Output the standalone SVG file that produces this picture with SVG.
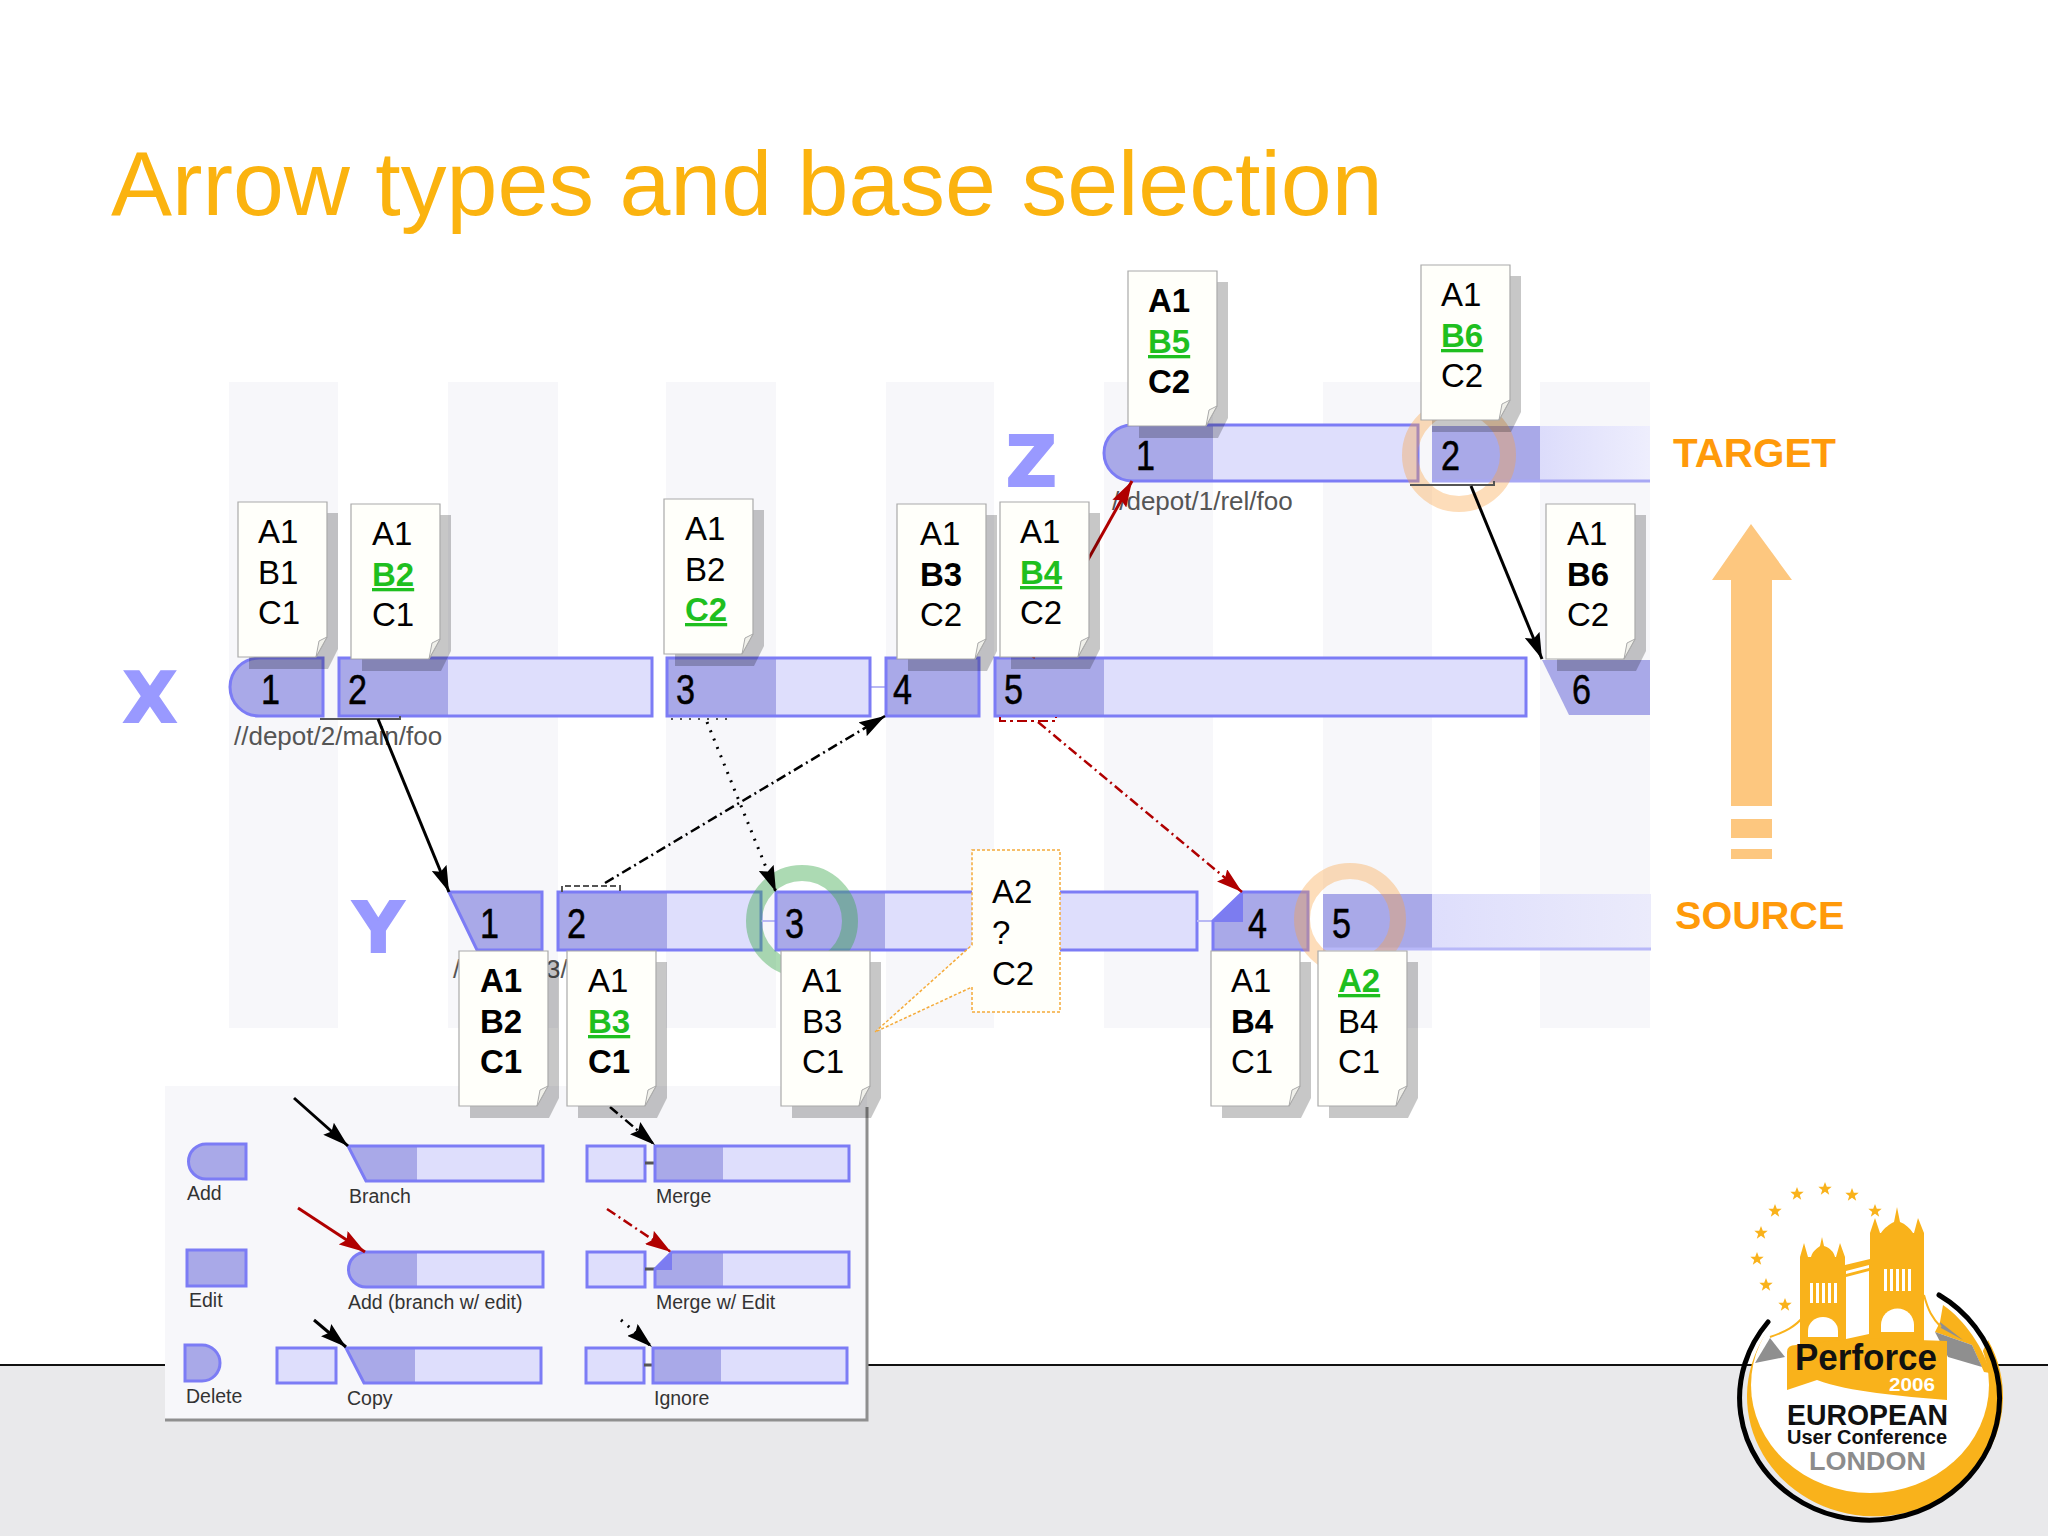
<svg xmlns="http://www.w3.org/2000/svg" width="2048" height="1536" viewBox="0 0 2048 1536">
<style>
text{font-family:"Liberation Sans",Arial,sans-serif}
.col{fill:#f7f7fa}
.l{fill:#dedefc}
.d{fill:#a9a9e8}
.o{fill:none;stroke:#7c7cf5;stroke-width:3}
.hi{fill:#7c7cf0}
.t{font-size:33px;fill:#000}
.b{font-weight:bold}
.g{font-weight:bold;fill:#1fbf1f;text-decoration:underline}
.n{font-size:42px;fill:#000;stroke:#000;stroke-width:.5}
.big{font-family:"DejaVu Sans",sans-serif;font-weight:bold;font-size:70px;fill:#9999ff;stroke:#9999ff;stroke-width:2}
.sub{font-size:26px;fill:#555}
.lg{font-size:19.500px;fill:#333}
.side{font-size:40px;font-weight:bold;fill:#ff9a0a}
.ring{fill:none;stroke-width:16}
.a{fill:none;stroke:#000;stroke-width:3}
.r{stroke:#b00000}
.dash{stroke-dasharray:10 4 2 4;stroke-width:2.500}
.dot{stroke-dasharray:2 7}
.br{fill:none;stroke:#555;stroke-width:2}
.lk{stroke:#555;stroke-width:3}
.gold{fill:#f9b21b}
.grey{fill:#8f8f8f}
</style>
<defs>
<marker id="ah" markerUnits="userSpaceOnUse" viewBox="0 0 26 16" refX="26" refY="8" markerWidth="26" markerHeight="16" orient="auto"><path d="M0,0 L26,8 L0,16 L4,8Z" fill="#000"/></marker>
<marker id="ahr" markerUnits="userSpaceOnUse" viewBox="0 0 26 16" refX="26" refY="8" markerWidth="26" markerHeight="16" orient="auto"><path d="M0,0 L26,8 L0,16 L4,8Z" fill="#b00000"/></marker>
<linearGradient id="fz" x1="0" x2="1" y1="0" y2="0"><stop offset="0" stop-color="#dcdcfb"/><stop offset="1" stop-color="#eeeefd"/></linearGradient>
<linearGradient id="fy" x1="0" x2="1" y1="0" y2="0"><stop offset="0" stop-color="#dedefc"/><stop offset="1" stop-color="#ebebfb"/></linearGradient>
<g id="page">
<path d="M11,11 H100 V147 L90,167 H11Z" fill="#000" opacity=".22"/>
<path d="M0,0 H89 V135 L78,155 H0Z" fill="#fffffa" stroke="#aaa" stroke-width="1.200"/>
<path d="M89,135 L78,155 L81,139Z" fill="#f0f0ea" stroke="#aaa" stroke-width="1"/>
</g>
<path id="star" d="M0,-7 L1.800,-2.200 L6.700,-2.200 L2.800,.9 L4.200,5.700 L0,2.800 L-4.200,5.700 L-2.800,.9 L-6.700,-2.200 L-1.800,-2.200Z" fill="#f9b21b"/>
</defs>
<rect width="2048" height="1536" fill="#fff"/>
<rect y="1364" width="2048" height="172" fill="#e9e9eb"/>
<line x1="0" y1="1365" x2="2048" y2="1365" stroke="#111" stroke-width="2"/>
<text x="111" y="215" font-size="91.500" fill="#fbb30f">Arrow types and base selection</text>
<g id="columns">
<rect class="col" x="229" y="382" width="109" height="646"/>
<rect class="col" x="448" y="382" width="110" height="646"/>
<rect class="col" x="666" y="382" width="110" height="646"/>
<rect class="col" x="886" y="382" width="108" height="646"/>
<rect class="col" x="1104" y="382" width="109" height="646"/>
<rect class="col" x="1323" y="382" width="109" height="646"/>
<rect class="col" x="1540" y="382" width="110" height="646"/>
</g>
<g id="legend">
<rect x="165" y="1086" width="702" height="334" fill="#f7f7fa"/>
<path d="M867,1107 V1420 H165" fill="none" stroke="#8f8f8f" stroke-width="3"/>
<g id="lg-add"><path class="d" d="M246,1144 H206 A17.500 17.500 0 0 0 206,1179 H246Z"/><path class="o" d="M246,1144 H206 A17.500 17.500 0 0 0 206,1179 H246Z"/><text class="lg" x="187" y="1200">Add</text></g>
<g id="lg-edit"><rect class="d" x="187" y="1250" width="59" height="36"/><rect class="o" x="187" y="1250" width="59" height="36"/><text class="lg" x="189" y="1307">Edit</text></g>
<g id="lg-delete"><path class="d" d="M185,1345 H202 A18 18 0 0 1 202,1381 H185Z"/><path class="o" d="M185,1345 H202 A18 18 0 0 1 202,1381 H185Z"/><text class="lg" x="186" y="1403">Delete</text></g>
<g id="lg-branch"><path class="l" d="M348,1146 H543 V1181 H366Z"/><path class="d" d="M348,1146 H417 V1181 H366Z"/><path class="o" d="M348,1146 H543 V1181 H366Z"/><text class="lg" x="349" y="1203">Branch</text></g>
<g id="lg-merge"><rect class="l" x="587" y="1146" width="58" height="35"/><rect class="o" x="587" y="1146" width="58" height="35"/><line class="lk" x1="645" y1="1163" x2="655" y2="1163"/><rect class="l" x="655" y="1146" width="194" height="35"/><rect class="d" x="655" y="1146" width="68" height="35"/><rect class="o" x="655" y="1146" width="194" height="35"/><text class="lg" x="656" y="1203">Merge</text></g>
<g id="lg-addbranch"><path class="l" d="M543,1252 H366 A17.500 17.500 0 0 0 366,1287 H543Z"/><path class="d" d="M417,1252 H366 A17.500 17.500 0 0 0 366,1287 H417Z"/><path class="o" d="M543,1252 H366 A17.500 17.500 0 0 0 366,1287 H543Z"/><text class="lg" x="348" y="1309">Add (branch w/ edit)</text></g>
<g id="lg-mergeedit"><rect class="l" x="587" y="1252" width="58" height="35"/><rect class="o" x="587" y="1252" width="58" height="35"/><line class="lk" x1="645" y1="1269" x2="655" y2="1269"/><path class="l" d="M672,1252 H849 V1287 H655 V1269Z"/><path class="d" d="M672,1252 H723 V1287 H655 V1269Z"/><path class="hi" d="M672,1252 V1270 H655Z"/><path class="o" d="M672,1252 H849 V1287 H655 V1269Z"/><text class="lg" x="656" y="1309">Merge w/ Edit</text></g>
<g id="lg-copy"><rect class="l" x="277" y="1348" width="59" height="35"/><rect class="o" x="277" y="1348" width="59" height="35"/><path class="l" d="M346,1348 H541 V1383 H364Z"/><path class="d" d="M346,1348 H415 V1383 H364Z"/><path class="o" d="M346,1348 H541 V1383 H364Z"/><text class="lg" x="347" y="1405">Copy</text></g>
<g id="lg-ignore"><rect class="l" x="586" y="1348" width="58" height="35"/><rect class="o" x="586" y="1348" width="58" height="35"/><line class="lk" x1="644" y1="1365" x2="653" y2="1365"/><rect class="l" x="653" y="1348" width="194" height="35"/><rect class="d" x="653" y="1348" width="68" height="35"/><rect class="o" x="653" y="1348" width="194" height="35"/><text class="lg" x="654" y="1405">Ignore</text></g>
</g>
<g id="row-x">
<g id="x1"><path class="d" d="M323,658 H259 A29 29 0 0 0 259,716 H323Z"/><path class="o" d="M323,658 H259 A29 29 0 0 0 259,716 H323Z"/><text class="n" x="261" y="704" textLength="19" lengthAdjust="spacingAndGlyphs">1</text></g>
<g id="x2"><rect class="l" x="339" y="658" width="313" height="58"/><rect class="d" x="339" y="658" width="109" height="58"/><rect class="o" x="339" y="658" width="313" height="58"/><text class="n" x="348" y="704" textLength="19" lengthAdjust="spacingAndGlyphs">2</text></g>
<line x1="870" y1="687" x2="886" y2="687" stroke="#b8b8f4" stroke-width="2"/>
<g id="x3"><rect class="l" x="667" y="658" width="203" height="58"/><rect class="d" x="667" y="658" width="109" height="58"/><rect class="o" x="667" y="658" width="203" height="58"/><text class="n" x="676" y="704" textLength="19" lengthAdjust="spacingAndGlyphs">3</text></g>
<g id="x4"><rect class="d" x="886" y="658" width="93" height="58"/><rect class="o" x="886" y="658" width="93" height="58"/><text class="n" x="893" y="704" textLength="19" lengthAdjust="spacingAndGlyphs">4</text></g>
<g id="x5"><rect class="l" x="995" y="658" width="531" height="58"/><rect class="d" x="995" y="658" width="109" height="58"/><rect class="o" x="995" y="658" width="531" height="58"/><text class="n" x="1004" y="704" textLength="19" lengthAdjust="spacingAndGlyphs">5</text></g>
<g id="x6"><path class="d" d="M1542,660 H1650 V715 H1569Z"/><text class="n" x="1572" y="704" textLength="19" lengthAdjust="spacingAndGlyphs">6</text></g>
</g>
<g id="row-z">
<g id="z1"><path class="l" d="M1418,425 H1132 A28 28 0 0 0 1132,481 H1418Z"/><path class="d" d="M1213,425 H1132 A28 28 0 0 0 1132,481 H1213Z"/><path class="o" d="M1418,425 H1132 A28 28 0 0 0 1132,481 H1418Z"/><text class="n" x="1136" y="470" textLength="19" lengthAdjust="spacingAndGlyphs">1</text></g>
<g id="z2"><rect fill="url(#fz)" x="1540" y="426" width="110" height="55"/><rect class="d" x="1432" y="426" width="108" height="55"/><line x1="1432" y1="481" x2="1650" y2="481" stroke="#a8a8f4" stroke-width="3"/><text class="n" x="1441" y="470" textLength="19" lengthAdjust="spacingAndGlyphs">2</text></g>
</g>
<g id="row-y">
<g id="y1"><path class="d" d="M449,892 H542 V950 H477Z"/><path class="o" d="M449,892 H542 V950 H477Z"/><text class="n" x="480" y="938" textLength="19" lengthAdjust="spacingAndGlyphs">1</text></g>
<g id="y2"><rect class="l" x="558" y="892" width="203" height="58"/><rect class="d" x="558" y="892" width="109" height="58"/><rect class="o" x="558" y="892" width="203" height="58"/><text class="n" x="567" y="938" textLength="19" lengthAdjust="spacingAndGlyphs">2</text></g>
<line x1="761" y1="921" x2="776" y2="921" stroke="#b8b8f4" stroke-width="2"/>
<g id="y3"><rect class="l" x="776" y="892" width="421" height="58"/><rect class="d" x="776" y="892" width="109" height="58"/><rect class="o" x="776" y="892" width="421" height="58"/><text class="n" x="785" y="938" textLength="19" lengthAdjust="spacingAndGlyphs">3</text></g>
<line x1="1197" y1="921" x2="1213" y2="921" stroke="#b8b8f4" stroke-width="2"/>
<g id="y4"><path class="d" d="M1243,892 H1308 V950 H1213 V921Z"/><path class="hi" d="M1243,892 V922 H1213Z"/><path class="o" d="M1243,892 H1308 V950 H1213 V921Z"/><text class="n" x="1248" y="938" textLength="19" lengthAdjust="spacingAndGlyphs">4</text></g>
<g id="y5"><rect fill="url(#fy)" x="1432" y="894" width="219" height="56"/><rect class="d" x="1323" y="894" width="109" height="56"/><line x1="1323" y1="949" x2="1651" y2="949" stroke="#b8b8f8" stroke-width="3"/><text class="n" x="1332" y="938" textLength="19" lengthAdjust="spacingAndGlyphs">5</text></g>
</g>
<g id="rings">
<circle class="ring" cx="1459" cy="455" r="49" stroke="#f9a040" stroke-opacity=".36"/>
<circle class="ring" cx="802" cy="921" r="48" stroke="#3aa84a" stroke-opacity=".42"/>
<circle class="ring" cx="1350" cy="919" r="48" stroke="#f9a040" stroke-opacity=".36"/>
</g>
<g id="depot-labels">
<text class="sub" x="234" y="745">//depot/2/main/foo</text>
<text class="sub" x="1112" y="510">//depot/1/rel/foo</text>
<text class="sub" x="453" y="978">/</text>
<text class="sub" x="546" y="978">3/</text>
</g>
<g id="connectors">
<path class="br" d="M320,719 H400 V716"/>
<path class="br" d="M1410,485 H1494 V481"/>
<path class="br dot" d="M671,719 H727"/>
<path class="br" stroke-dasharray="6 3" d="M562,892 V886 H620 V892"/>
<path class="br" style="stroke:#b00000" stroke-dasharray="10 4 3 4" d="M1000,717 V721 H1056 V717"/>
<line class="a" x1="378" y1="719" x2="449" y2="892" marker-end="url(#ah)"/>
<line class="a dash" x1="605" y1="883" x2="885" y2="716" marker-end="url(#ah)"/>
<line class="a dot" x1="707" y1="722" x2="776" y2="892" marker-end="url(#ah)"/>
<line class="a r" x1="1033" y1="658" x2="1132" y2="481" marker-end="url(#ahr)"/>
<line class="a" x1="1471" y1="486" x2="1542" y2="659" marker-end="url(#ah)"/>
<line class="a r dash" x1="1038" y1="722" x2="1242" y2="892" marker-end="url(#ahr)"/>
<line class="a" x1="294" y1="1098" x2="348" y2="1146" marker-end="url(#ah)"/>
<line class="a dash" x1="610" y1="1107" x2="655" y2="1145" marker-end="url(#ah)"/>
<line class="a r" x1="298" y1="1208" x2="365" y2="1252" marker-end="url(#ahr)"/>
<line class="a r dash" x1="607" y1="1209" x2="671" y2="1252" marker-end="url(#ahr)"/>
<line class="a" x1="314" y1="1320" x2="346" y2="1347" marker-end="url(#ah)"/>
<line class="a dot" x1="621" y1="1320" x2="652" y2="1347" marker-end="url(#ah)"/>
</g>
<g id="big-letters">
<text class="big" x="123" y="722">X</text>
<text class="big" x="1006" y="486">Z</text>
<text class="big" x="353" y="952">Y</text>
</g>
<g id="doc-x1" transform="translate(238,502)"><use href="#page"/><text class="t" x="20" y="41">A1</text><text class="t" x="20" y="82">B1</text><text class="t" x="20" y="122">C1</text></g>
<g id="doc-x2" transform="translate(351,504)"><use href="#page"/><text class="t" x="21" y="41">A1</text><text class="t g" x="21" y="82">B2</text><text class="t" x="21" y="122">C1</text></g>
<g id="doc-x3" transform="translate(664,499)"><use href="#page"/><text class="t" x="21" y="41">A1</text><text class="t" x="21" y="82">B2</text><text class="t g" x="21" y="122">C2</text></g>
<g id="doc-x4" transform="translate(897,504)"><use href="#page"/><text class="t" x="23" y="41">A1</text><text class="t b" x="23" y="82">B3</text><text class="t" x="23" y="122">C2</text></g>
<g id="doc-x5" transform="translate(1000,502)"><use href="#page"/><text class="t" x="20" y="41">A1</text><text class="t g" x="20" y="82">B4</text><text class="t" x="20" y="122">C2</text></g>
<g id="doc-x6" transform="translate(1546,504)"><use href="#page"/><text class="t" x="21" y="41">A1</text><text class="t b" x="21" y="82">B6</text><text class="t" x="21" y="122">C2</text></g>
<g id="doc-z1" transform="translate(1128,271)"><use href="#page"/><text class="t b" x="20" y="41">A1</text><text class="t g" x="20" y="82">B5</text><text class="t b" x="20" y="122">C2</text></g>
<g id="doc-z2" transform="translate(1421,265)"><use href="#page"/><text class="t" x="20" y="41">A1</text><text class="t g" x="20" y="82">B6</text><text class="t" x="20" y="122">C2</text></g>
<g id="doc-y1" transform="translate(459,951)"><use href="#page"/><text class="t b" x="21" y="41">A1</text><text class="t b" x="21" y="82">B2</text><text class="t b" x="21" y="122">C1</text></g>
<g id="doc-y2" transform="translate(567,951)"><use href="#page"/><text class="t" x="21" y="41">A1</text><text class="t g" x="21" y="82">B3</text><text class="t b" x="21" y="122">C1</text></g>
<g id="doc-y3" transform="translate(781,951)"><use href="#page"/><text class="t" x="21" y="41">A1</text><text class="t" x="21" y="82">B3</text><text class="t" x="21" y="122">C1</text></g>
<g id="doc-y4" transform="translate(1211,951)"><use href="#page"/><text class="t" x="20" y="41">A1</text><text class="t b" x="20" y="82">B4</text><text class="t" x="20" y="122">C1</text></g>
<g id="doc-y5" transform="translate(1318,951)"><use href="#page"/><text class="t g" x="20" y="41">A2</text><text class="t" x="20" y="82">B4</text><text class="t" x="20" y="122">C1</text></g>
<g id="callout">
<path d="M972,850 H1060 V1012 H972 V987 L875,1032 L972,945Z" fill="#fffffa" stroke="#f5ab3a" stroke-width="1.500" stroke-dasharray="3 2"/>
<text class="t" x="992" y="903">A2</text><text class="t" x="992" y="944">?</text><text class="t" x="992" y="985">C2</text>
</g>
<g id="direction">
<text class="side" x="1673" y="467" style="font-size:40.400px">TARGET</text>
<path d="M1751,524 L1792,580 H1772 V806 H1731 V580 H1712Z" fill="#fdc77f"/>
<rect x="1731" y="819" width="41" height="19" fill="#fdc77f"/>
<rect x="1731" y="849" width="41" height="10" fill="#fdc77f"/>
<text class="side" x="1675" y="929" style="font-size:39.600px">SOURCE</text>
</g>
<g id="logo">
<path d="M1765,1335 A128 120 0 1 0 1988,1340 L1960,1400 L1780,1400Z" class="gold"/>
<ellipse cx="1870" cy="1385" rx="119" ry="108" fill="#fff"/>
<path d="M1770,1338 L1785,1357 L1755,1363Z" class="grey"/>
<path d="M1943,1305 C1965,1320 1985,1350 1990,1373 L1984,1372 L1972,1345 L1935,1332 L1940,1322Z" class="gold"/>
<path d="M1935,1332 L1972,1345 L1982,1367 L1948,1357Z" class="grey"/>
<path d="M1940,1322 L1963,1340 L1941,1328Z" class="grey"/>
<path d="M1770,1337 C1785,1332 1795,1327 1805,1315 M1924,1295 C1928,1310 1932,1318 1941,1327" fill="none" stroke="#f9b21b" stroke-width="2"/>
<path d="M1800,1345 V1257 L1804,1243 L1808,1257 H1811 C1813,1250 1818,1248 1820,1246 L1822,1237 L1824,1246 C1830,1248 1834,1252 1835,1257 H1836 L1840,1243 L1845,1257 V1345Z" class="gold"/>
<path d="M1870,1345 V1233 L1875,1218 L1880,1233 H1881 C1884,1228 1890,1224 1894,1222 L1897,1207 L1900,1222 C1905,1224 1910,1228 1913,1233 H1914 L1918,1218 L1924,1233 V1345Z" class="gold"/>
<path d="M1845,1265 L1870,1259 V1340 L1845,1345Z" class="gold"/>
<path d="M1846,1277 L1869,1271 V1334 L1846,1339Z" fill="#fff"/>
<path d="M1846,1271 L1869,1265 V1268 L1846,1274Z" fill="#fff"/>
<g fill="#fff"><rect x="1810" y="1283" width="3" height="20"/><rect x="1816" y="1283" width="3" height="20"/><rect x="1822" y="1283" width="3" height="20"/><rect x="1828" y="1283" width="3" height="20"/><rect x="1834" y="1283" width="3" height="20"/><rect x="1884" y="1269" width="3" height="22"/><rect x="1890" y="1269" width="3" height="22"/><rect x="1896" y="1269" width="3" height="22"/><rect x="1902" y="1269" width="3" height="22"/><rect x="1908" y="1269" width="3" height="22"/><path d="M1808,1337 V1331 A15 14 0 0 1 1838,1331 V1337Z"/><path d="M1881,1332 V1325 A16 16 0 0 1 1914,1325 V1332Z"/></g>
<path d="M1787,1352 Q1787,1345 1796,1345 L1860,1338 L1947,1341 V1400 C1900,1396 1850,1392 1817,1380 L1787,1390Z" class="gold"/>
<text x="1795" y="1370" font-weight="bold" font-size="37" fill="#111" textLength="142" lengthAdjust="spacingAndGlyphs">Perforce</text>
<text x="1889" y="1391" font-weight="bold" font-size="19" fill="#fff" textLength="46" lengthAdjust="spacingAndGlyphs">2006</text>
<text x="1787" y="1425" font-weight="bold" font-size="30" fill="#111" textLength="161" lengthAdjust="spacingAndGlyphs">EUROPEAN</text>
<text x="1787" y="1444" font-weight="bold" font-size="20" fill="#111" textLength="160" lengthAdjust="spacingAndGlyphs">User Conference</text>
<text x="1809" y="1470" font-weight="bold" font-size="25" fill="#8c8c8c" textLength="117" lengthAdjust="spacingAndGlyphs">LONDON</text>
<path d="M1768,1322 A130 122 0 1 0 1939,1295" fill="none" stroke="#000" stroke-width="5" stroke-linecap="round"/>
<use href="#star" x="1825" y="1189"/><use href="#star" x="1852" y="1195"/><use href="#star" x="1797" y="1194"/><use href="#star" x="1875" y="1211"/><use href="#star" x="1775" y="1211"/><use href="#star" x="1761" y="1233"/><use href="#star" x="1757" y="1259"/><use href="#star" x="1766" y="1285"/><use href="#star" x="1785" y="1305"/>
</g>
</svg>
